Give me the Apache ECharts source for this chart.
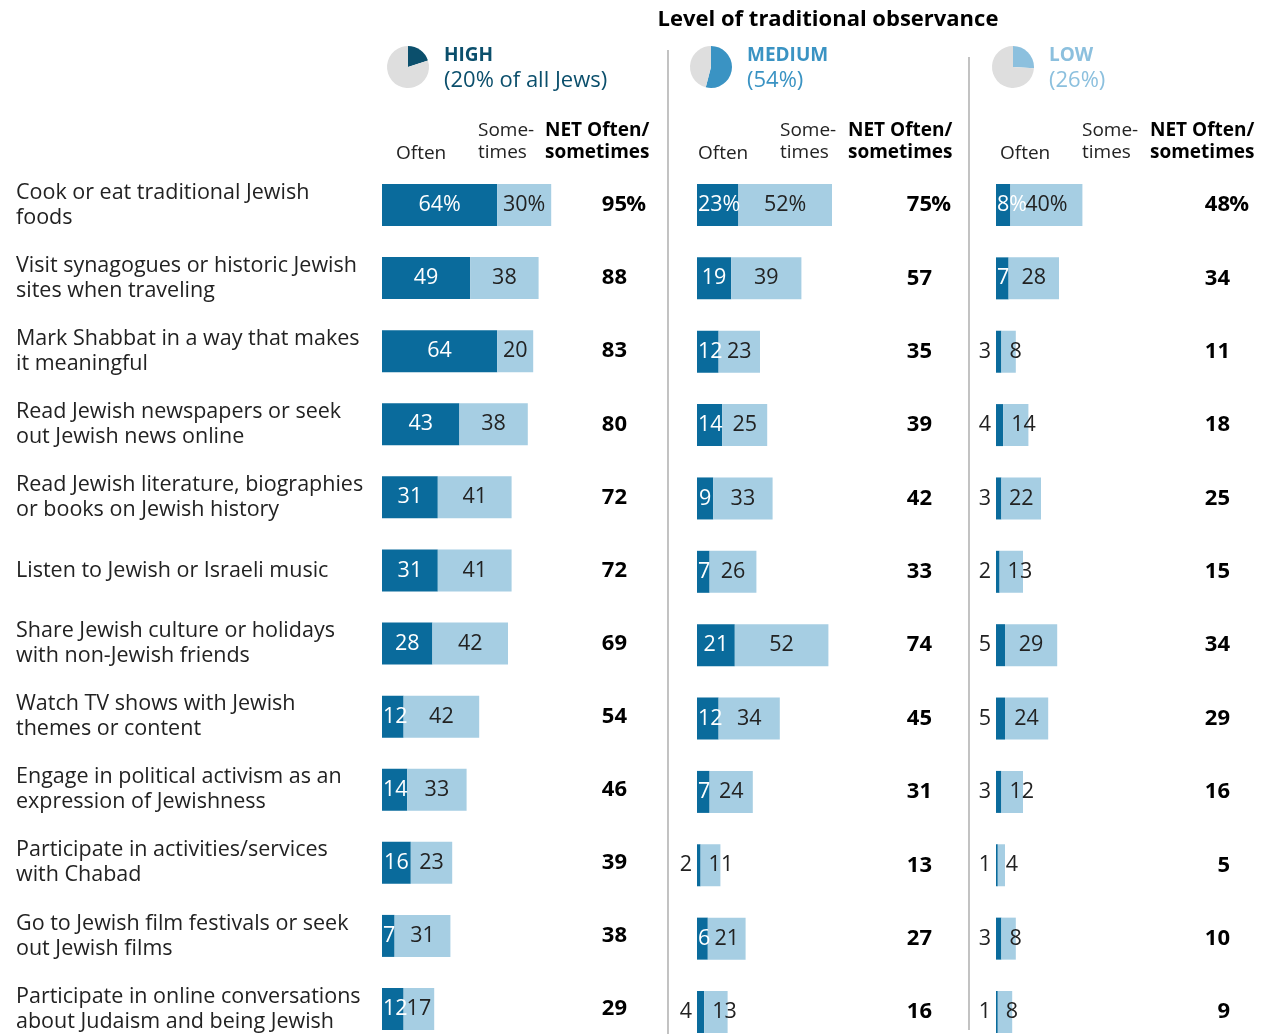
<!DOCTYPE html>
<html>
<head>
<meta charset="utf-8">
<script src="https://cdn.jsdelivr.net/npm/echarts@6/dist/echarts.min.js"></script>
<style>
  html, body { margin: 0; padding: 0; background: #fff; }
  #chart { width: 1263px; height: 1034px; }
</style>
</head>
<body>
<div id="chart"></div>
<script>
// Activities (row labels, wrapped as printed)
const activities = [
  'Cook or eat traditional Jewish\nfoods',
  'Visit synagogues or historic Jewish\nsites when traveling',
  'Mark Shabbat in a way that makes\nit meaningful',
  'Read Jewish newspapers or seek\nout Jewish news online',
  'Read Jewish literature, biographies\nor books on Jewish history',
  'Listen to Jewish or Israeli music',
  'Share Jewish culture or holidays\nwith non-Jewish friends',
  'Watch TV shows with Jewish\nthemes or content',
  'Engage in political activism as an\nexpression of Jewishness',
  'Participate in activities/services\nwith Chabad',
  'Go to Jewish film festivals or seek\nout Jewish films',
  'Participate in online conversations\nabout Judaism and being Jewish'
];

// High observance
const highOften     = [64, 49, 64, 43, 31, 31, 28, 12, 14, 16, 7, 12];
const highSometimes = [30, 38, 20, 38, 41, 41, 42, 42, 33, 23, 31, 17];
const highNet       = [95, 88, 83, 80, 72, 72, 69, 54, 46, 39, 38, 29];

// Medium observance
const mediumOften     = [23, 19, 12, 14, 9, 7, 21, 12, 7, 2, 6, 4];
const mediumSometimes = [52, 39, 23, 25, 33, 26, 52, 34, 24, 11, 21, 13];
const mediumNet       = [75, 57, 35, 39, 42, 33, 74, 45, 31, 13, 27, 16];

// Low observance
const lowOften     = [8, 7, 3, 4, 3, 2, 5, 5, 3, 1, 3, 1];
const lowSometimes = [40, 28, 8, 14, 22, 13, 29, 24, 12, 4, 8, 8];
const lowNet       = [48, 34, 11, 18, 25, 15, 34, 29, 16, 5, 10, 9];

// Group headers
const groupNames  = ['HIGH', 'MEDIUM', 'LOW'];
const groupNotes  = ['(20% of all Jews)', '(54%)', '(26%)'];
const groupShares = [20, 54, 26];
const columnHeads = ['Often', 'Some-\ntimes', 'NET Often/\nsometimes'];
const chartTitle  = 'Level of traditional observance';

// ---- layout & style ----
const FONT = "'Open Sans', 'Noto Sans', sans-serif";
const DARK = '#0a6b9c';
const LIGHT = '#a6cee3';
const TEXT = '#222';
const PX_PER_POINT = 1.8;
const ROW_FIRST = 205, ROW_LAST = 1012;   // centres of the first and last rows
const PCT_W = 19;
const DIGIT_W = 12, PCT_GLYPH_W = 18;     // approximate label glyph widths

const panels = [
  { left: 382, right: 668, netEdge: 627, often: highOften, some: highSometimes, net: highNet,
    pieX: 408, headX: 444, color: '#0b4f6c', oftenX: 396, someX: 478, netX: 545 },
  { left: 697, right: 969, netEdge: 932, often: mediumOften, some: mediumSometimes, net: mediumNet,
    pieX: 711, headX: 747, color: '#3a93c3', oftenX: 698, someX: 780, netX: 848 },
  { left: 996, right: 1263, netEdge: 1230, often: lowOften, some: lowSometimes, net: lowNet,
    pieX: 1013, headX: 1049, color: '#8cc0de', oftenX: 1000, someX: 1082, netX: 1150 }
];

const grid = [], xAxis = [], yAxis = [], series = [], graphic = [];

panels.forEach((p, i) => {
  const width = p.right - p.left;
  grid.push({ left: p.left, top: ROW_FIRST, width: width, height: ROW_LAST - ROW_FIRST, containLabel: false });
  xAxis.push({ type: 'value', gridIndex: i, min: 0, max: width / PX_PER_POINT, show: false });

  // left category axis: activity labels (first panel only)
  yAxis.push({
    type: 'category', gridIndex: i, inverse: true, boundaryGap: false, data: activities,
    axisLine: { show: false }, axisTick: { show: false }, splitLine: { show: false },
    axisLabel: {
      show: i === 0, align: 'left', margin: p.left - 16, interval: 0,
      fontFamily: FONT, fontSize: 21.5, color: TEXT, lineHeight: 25
    }
  });
  // right category axis: NET values
  yAxis.push({
    type: 'category', gridIndex: i, inverse: true, boundaryGap: false, position: 'right',
    data: p.net.map(String),
    axisLine: { show: false }, axisTick: { show: false }, splitLine: { show: false },
    axisLabel: {
      inside: true, align: 'right', interval: 0, margin: p.right - (p.netEdge + PCT_W),
      formatter: (val, idx) => '{n|' + val + '}{h|' + (idx === 0 ? '%' : ' ') + '}',
      rich: {
        n: { fontFamily: FONT, fontSize: 22, fontWeight: 'bold', color: '#000', align: 'right' },
        h: { fontFamily: FONT, fontSize: 22, fontWeight: 'bold', color: '#000', align: 'right', width: PCT_W }
      }
    }
  });

  const fmt = d => d.dataIndex === 0 ? d.value + '%' : String(d.value);

  series.push({
    type: 'bar', stack: 'obs' + i, xAxisIndex: i, yAxisIndex: 2 * i,
    barWidth: 42, silent: true, animation: false, clip: false,
    itemStyle: { color: DARK },
    label: { show: true, fontFamily: FONT, fontSize: 21.5, formatter: fmt },
    data: p.often.map((v, r) => {
      const textW = String(v).length * DIGIT_W + (r === 0 ? PCT_GLYPH_W : 0);
      let label;
      if (v < 6) label = { position: 'left', distance: 5, color: TEXT };
      else if (v * PX_PER_POINT >= textW + 4) label = { position: 'inside', color: '#fff' };
      else label = { position: 'insideLeft', distance: 1, color: '#fff' };
      return { value: v, label };
    })
  });
  series.push({
    type: 'bar', stack: 'obs' + i, xAxisIndex: i, yAxisIndex: 2 * i,
    barWidth: 42, silent: true, animation: false, clip: false,
    itemStyle: { color: LIGHT },
    label: { show: true, fontFamily: FONT, fontSize: 21.5, color: TEXT, formatter: fmt },
    data: p.some.map(v => ({
      value: v,
      label: v >= 15 ? { position: 'inside' } : { position: 'insideLeft', distance: 8 }
    }))
  });

  // share-of-all-Jews pie icon
  series.push({
    type: 'pie', center: [p.pieX, 67], radius: 21, startAngle: 90, clockwise: true,
    silent: true, animation: false, label: { show: false }, labelLine: { show: false },
    data: [
      { value: groupShares[i], itemStyle: { color: p.color } },
      { value: 100 - groupShares[i], itemStyle: { color: '#dedede' } }
    ]
  });

  // group header text
  graphic.push({ type: 'text', x: p.headX, y: 56, silent: true,
    style: { text: groupNames[i], fill: p.color, font: 'bold 19px ' + FONT, verticalAlign: 'middle' } });
  graphic.push({ type: 'text', x: p.headX, y: 81, silent: true,
    style: { text: groupNotes[i], fill: p.color, font: '22px ' + FONT, verticalAlign: 'middle' } });

  // column headers
  graphic.push({ type: 'text', x: p.oftenX, y: 154, silent: true,
    style: { text: columnHeads[0], fill: TEXT, font: '19px ' + FONT, verticalAlign: 'middle' } });
  graphic.push({ type: 'text', x: p.someX, y: 142, silent: true,
    style: { text: columnHeads[1], fill: TEXT, font: '19px ' + FONT, lineHeight: 22, verticalAlign: 'middle' } });
  graphic.push({ type: 'text', x: p.netX, y: 142, silent: true,
    style: { text: columnHeads[2], fill: '#000', font: 'bold 19px ' + FONT, lineHeight: 22, verticalAlign: 'middle' } });
});

// panel separators
graphic.push({ type: 'line', silent: true, shape: { x1: 668, y1: 50, x2: 668, y2: 1034 },
  style: { stroke: '#9a9a9a', lineWidth: 1.2 } });
graphic.push({ type: 'line', silent: true, shape: { x1: 969, y1: 57, x2: 969, y2: 1030 },
  style: { stroke: '#9a9a9a', lineWidth: 1.2 } });

// overall header
graphic.push({ type: 'text', x: 828, y: 20, silent: true,
  style: { text: chartTitle, fill: '#000', font: 'bold 22px ' + FONT, align: 'center', verticalAlign: 'middle' } });

const chart = echarts.init(document.getElementById('chart'), null, { renderer: 'canvas' });
chart.setOption({
  backgroundColor: '#fff',
  animation: false,
  grid, xAxis, yAxis, series, graphic
});
</script>
</body>
</html>
